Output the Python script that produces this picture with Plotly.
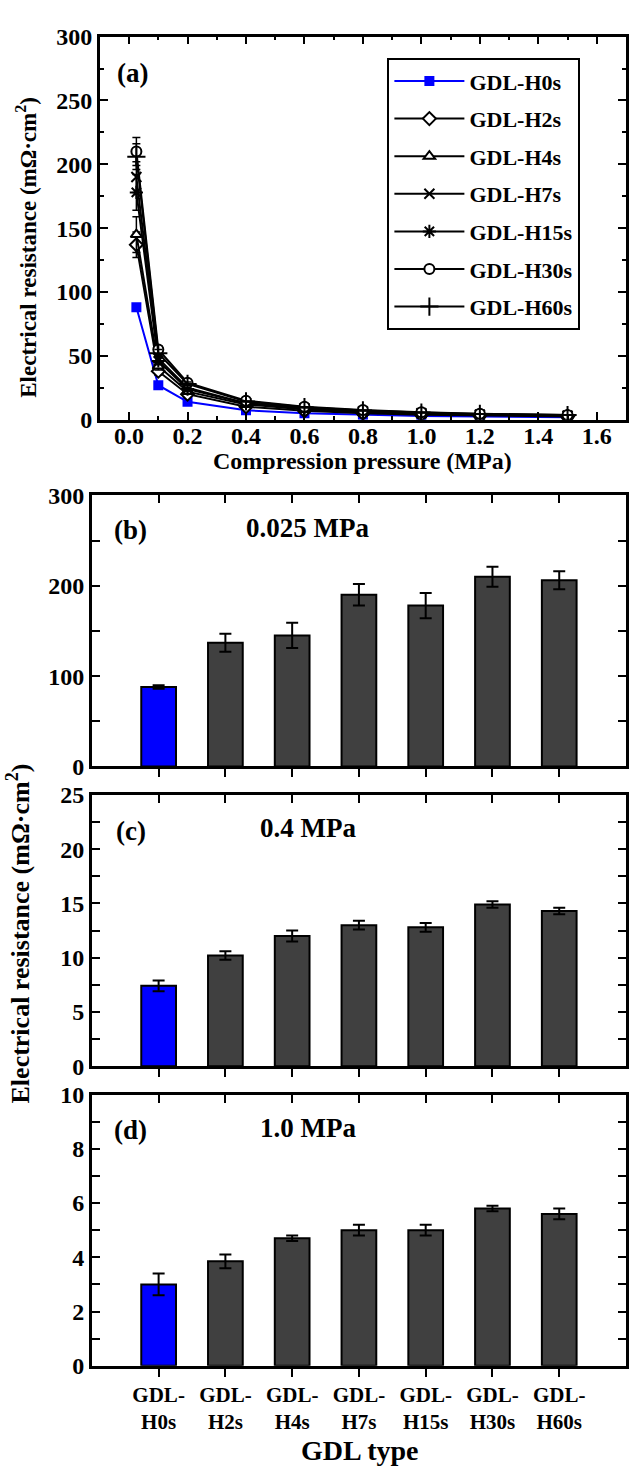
import plotly.graph_objects as go

# ---------------- data ----------------
pressure = [0.025, 0.1, 0.2, 0.4, 0.6, 0.8, 1.0, 1.2, 1.5]
names = ["GDL-H0s", "GDL-H2s", "GDL-H4s", "GDL-H7s", "GDL-H15s", "GDL-H30s", "GDL-H60s"]
tick_text = ["GDL-<br>H0s", "GDL-<br>H2s", "GDL-<br>H4s", "GDL-<br>H7s",
             "GDL-<br>H15s", "GDL-<br>H30s", "GDL-<br>H60s"]

r_H0 = [88, 27, 14, 7.4, 5.0, 3.8, 3.0, 2.5, 2.0]
r_H2 = [137, 38, 20, 10.2, 7.0, 5.0, 3.85, 3.2, 2.5]
r_H4 = [145, 42, 22, 12.0, 8.0, 6.0, 4.7, 3.8, 3.0]
r_H7 = [190, 48, 25, 13.0, 9.0, 6.5, 5.0, 4.0, 3.2]
r_H15 = [178, 46, 24, 12.8, 8.8, 6.4, 5.0, 4.0, 3.2]
r_H30 = [210, 55, 29, 14.9, 10.2, 7.6, 5.8, 4.7, 3.7]
r_H60 = [206, 52, 28, 14.3, 9.8, 7.3, 5.6, 4.5, 3.6]

e_H0 = [2, 1.5, 1, 0.5, 0.3, 0.3, 0.4, 0.2, 0.2]
e_H2 = [10, 3, 1.5, 0.4, 0.4, 0.3, 0.25, 0.2, 0.2]
e_H4 = [14, 3, 1.5, 0.5, 0.4, 0.3, 0.1, 0.2, 0.2]
e_H7 = [12, 3, 1.5, 0.4, 0.4, 0.3, 0.2, 0.2, 0.2]
e_H15 = [14, 3, 1.5, 0.4, 0.4, 0.3, 0.2, 0.2, 0.2]
e_H30 = [11, 3, 1.5, 0.3, 0.4, 0.3, 0.1, 0.2, 0.2]
e_H60 = [10, 3, 1.5, 0.3, 0.4, 0.3, 0.2, 0.2, 0.2]

bar_025 = [88, 137, 145, 190, 178, 210, 206]
err_025 = [2, 10, 14, 12, 14, 11, 10]
bar_04 = [7.4, 10.2, 12.0, 13.0, 12.8, 14.9, 14.3]
err_04 = [0.5, 0.4, 0.5, 0.4, 0.4, 0.3, 0.3]
bar_10 = [3.0, 3.85, 4.7, 5.0, 5.0, 5.8, 5.6]
err_10 = [0.4, 0.25, 0.1, 0.2, 0.2, 0.1, 0.2]

# ---------------- style ----------------
FONT = "Liberation Serif"
BLUE = "#0000FF"
GREY = "#404040"
W, H = 629, 1477

series = [r_H0, r_H2, r_H4, r_H7, r_H15, r_H30, r_H60]
errors = [e_H0, e_H2, e_H4, e_H7, e_H15, e_H30, e_H60]
symbols = ["square", "diamond", "triangle-up", "x-thin", "asterisk", "circle", "cross-thin"]
sizes = [10, 10, 10, 10, 11, 10, 13]

fig = go.Figure()

for i, (nm, ys, es) in enumerate(zip(names, series, errors)):
    col = BLUE if i == 0 else "black"
    if i == 0:
        mk = dict(symbol="square", size=sizes[i], color=BLUE, line=dict(width=0))
    elif symbols[i] in ("x-thin", "asterisk", "cross-thin"):
        mk = dict(symbol=symbols[i], size=sizes[i], color="black", line=dict(width=2, color="black"))
    else:
        mk = dict(symbol=symbols[i], size=sizes[i], color="white", line=dict(width=2, color="black"))
    fig.add_trace(go.Scatter(
        x=pressure, y=ys, name=nm, mode="lines+markers",
        line=dict(color=col, width=2), marker=mk,
        error_y=dict(type="data", array=es, color=col, thickness=1.5, width=4),
        xaxis="x", yaxis="y", legendgroup=nm,
    ))

bar_colors = [BLUE] + [GREY] * 6
cats = list(range(len(names)))
for vals, errs, ax, ay in [(bar_025, err_025, "x2", "y2"), (bar_04, err_04, "x3", "y3"), (bar_10, err_10, "x4", "y4")]:
    fig.add_trace(go.Bar(
        x=cats, y=vals, width=0.52,
        marker=dict(color=bar_colors, line=dict(color="black", width=2)),
        error_y=dict(type="data", array=errs, color="black", thickness=2, width=6),
        xaxis=ax, yaxis=ay, showlegend=False,
    ))
# invisible traces for the top-tick overlay axes
for ax, ay in [("x5", "y2"), ("x6", "y3"), ("x7", "y4")]:
    fig.add_trace(go.Scatter(x=[None], y=[None], xaxis=ax, yaxis=ay, showlegend=False, hoverinfo="skip"))

def py(top, bottom):
    return [(H - bottom) / H, (H - top) / H]

tickfont = dict(family=FONT, size=24, color="black", weight="bold")
axbase = dict(showline=True, linecolor="black", linewidth=2.5, showgrid=False, zeroline=False,
              tickfont=tickfont, tickcolor="black", tickwidth=2)

layout = dict(
    width=W, height=H, margin=dict(l=0, r=0, t=0, b=0),
    plot_bgcolor="white", paper_bgcolor="white",
    font=dict(family=FONT, color="black"),
    showlegend=True,
    legend=dict(x=388 / W, y=1 - 46 / H, xanchor="left", yanchor="top",
                bordercolor="black", borderwidth=2, bgcolor="white",
                font=dict(family=FONT, size=22, color="black", weight="bold"),
                tracegroupgap=6, itemwidth=70),
)

layout["xaxis"] = dict(axbase, domain=[100 / W, 627 / W], anchor="y", range=[-0.1, 1.7],
                       tick0=0, dtick=0.2, tickformat=".1f", ticks="inside", ticklen=8, mirror="allticks",
                       ticklabelstandoff=-7,
                       minor=dict(dtick=0.1, ticks="inside", ticklen=4, tickcolor="black", tickwidth=2))
layout["yaxis"] = dict(axbase, domain=py(24, 414), anchor="x", range=[0, 300],
                       dtick=50, ticks="inside", ticklen=8, mirror="allticks",
                       minor=dict(dtick=25, ticks="inside", ticklen=4, tickcolor="black", tickwidth=2))

panels = [("2", 491, 767, 300, 100, 50), ("3", 796, 1072, 25, 5, 2.5), ("4", 1101, 1377, 10, 2, 1)]
for k, top, bot, ymax, dt, mdt in panels:
    layout["xaxis" + k] = dict(axbase, domain=[92 / W, 627 / W], anchor="y" + k, range=[-1, 7],
                               tickvals=cats, ticktext=tick_text, ticks="outside", ticklen=8,
                               showticklabels=(k == "4"), mirror=True,
                               tickfont=dict(family=FONT, size=21, color="black", weight="bold"))
    layout["yaxis" + k] = dict(axbase, domain=py(top, bot), anchor="x" + k, range=[0, ymax],
                               dtick=dt, ticks="inside", ticklen=8, mirror="allticks",
                               minor=dict(dtick=mdt, ticks="inside", ticklen=4, tickcolor="black", tickwidth=2))
for k, base in [("5", "2"), ("6", "3"), ("7", "4")]:
    layout["xaxis" + k] = dict(overlaying="x" + base, anchor="y" + base, side="top", range=[-1, 7],
                               tickvals=cats, ticks="inside", ticklen=8, tickcolor="black", tickwidth=2,
                               showticklabels=False, showline=False, showgrid=False, zeroline=False)

fig.update_layout(**layout)

def f(size):
    return dict(family=FONT, size=size, color="black", weight="bold")

annotations = [
    dict(text="(a)", x=133 / W, y=1 - 61 / H, font=f(27)),
    dict(text="(b)", x=131 / W, y=1 - 526 / H, font=f(27)),
    dict(text="0.025 MPa", x=308 / W, y=1 - 524 / H, font=f(27)),
    dict(text="(c)", x=131 / W, y=1 - 833 / H, font=f(27)),
    dict(text="0.4 MPa", x=308 / W, y=1 - 830 / H, font=f(27)),
    dict(text="(d)", x=131 / W, y=1 - 1137 / H, font=f(27)),
    dict(text="1.0 MPa", x=308 / W, y=1 - 1135 / H, font=f(27)),
    dict(text="Compression pressure (MPa)", x=363 / W, y=1 - 456 / H, font=f(24)),
    dict(text="Electrical resistance (mΩ·cm<sup>2</sup>)", x=27 / W, y=1 - 238 / H, textangle=-90, font=f(23)),
    dict(text="Electrical resistance (mΩ·cm<sup>2</sup>)", x=19 / W, y=1 - 937 / H, textangle=-90, font=f(26)),
    dict(text="GDL type", x=360 / W, y=1 - 1463 / H, font=f(28)),
]
for a in annotations:
    a.update(xref="paper", yref="paper", showarrow=False, xanchor="center", yanchor="middle")
fig.update_layout(annotations=annotations)

fig.write_html("out.html")
